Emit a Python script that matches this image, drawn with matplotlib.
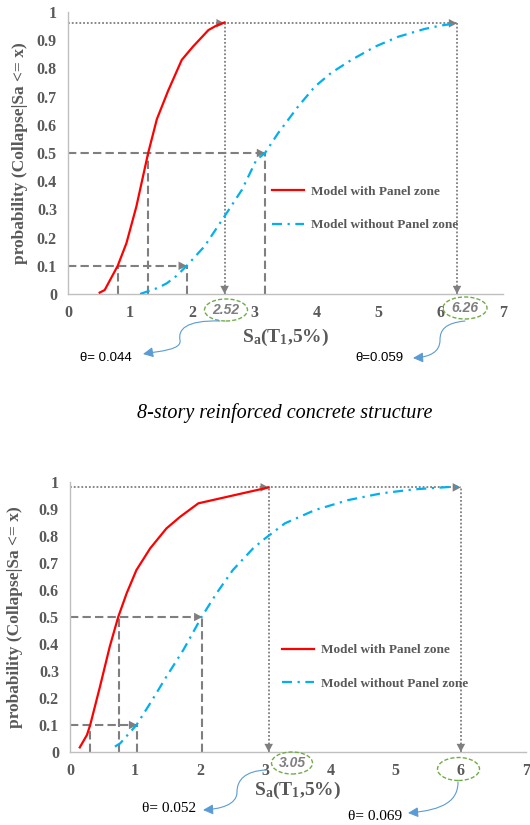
import numpy as np
import matplotlib
matplotlib.use("Agg")
import matplotlib.pyplot as plt
from matplotlib.patches import Ellipse, FancyArrowPatch
from matplotlib.path import Path

plt.rcParams['font.family'] = 'serif'
plt.rcParams['font.serif'] = ['Liberation Serif', 'DejaVu Serif']
plt.rcParams['mathtext.default'] = 'regular'

# curvas de fragilidade - 8 andares
top_with_x = [0.51, 0.59, 0.80, 0.94, 1.10, 1.29, 1.43, 1.61, 1.83, 2.01, 2.26, 2.39, 2.52]
top_with_y = [0.005, 0.014, 0.10, 0.18, 0.31, 0.50, 0.62, 0.72, 0.83, 0.877, 0.936, 0.952, 0.963]
top_without_x = [1.16, 1.29, 1.45, 1.59, 1.75, 1.91, 2.20, 2.55, 2.80, 3.03, 3.17, 3.38,
                 3.70, 3.97, 4.24, 4.56, 4.94, 5.31, 5.74, 6.00, 6.26]
top_without_y = [0.0, 0.01, 0.022, 0.038, 0.065, 0.10, 0.17, 0.286, 0.37, 0.475, 0.50, 0.57,
                 0.664, 0.735, 0.785, 0.83, 0.877, 0.912, 0.94, 0.952, 0.96]

# segunda estrutura
bot_with_x = [0.15, 0.26, 0.31, 0.46, 0.61, 0.74, 0.87, 1.02, 1.23, 1.48, 1.69, 1.97, 2.50, 3.05]
bot_with_y = [0.017, 0.063, 0.10, 0.242, 0.39, 0.50, 0.588, 0.674, 0.754, 0.828, 0.871, 0.921, 0.95, 0.98]
bot_without_x = [0.69, 0.77, 1.02, 1.23, 1.48, 1.74, 2.02, 2.25, 2.50, 2.81, 2.99, 3.30,
                 3.76, 4.27, 4.78, 5.29, 5.85, 6.00]
bot_without_y = [0.02, 0.032, 0.10, 0.18, 0.279, 0.378, 0.50, 0.588, 0.674, 0.754, 0.79, 0.847,
                 0.896, 0.933, 0.958, 0.973, 0.982, 0.985]

# niveis de referencia: (prob, x com painel, x sem painel)
top_levels = [(0.1, 0.80, 1.91), (0.5, 1.29, 3.17)]
top_max = (0.96, 2.52, 6.26)
bot_levels = [(0.1, 0.31, 1.03), (0.5, 0.75, 2.03)]
bot_max = (0.98, 3.05, 6.0)

x_ticks = [0, 1, 2, 3, 4, 5, 6, 7]
y_ticks = [0, 0.1, 0.2, 0.3, 0.4, 0.5, 0.6, 0.7, 0.8, 0.9, 1]
y_labels = ['0', '0.1', '0.2', '0.3', '0.4', '0.5', '0.6', '0.7', '0.8', '0.9', '1']

GREY = '#7f7f7f'
TXT = '#595959'
RED = '#ff0000'
BLUE = '#00b0f0'
W, H = 530, 825

fig = plt.figure(figsize=(W / 100, H / 100), dpi=100)


def px(x, y):
    return (x / W, 1 - y / H)


def head(ax, x, y, dx, dy):
    ax.annotate('', xy=(x, y), xytext=(x - dx, y - dy),
                arrowprops=dict(arrowstyle='-|>,head_length=0.42,head_width=0.22',
                                color=GREY, lw=0, shrinkA=0, shrinkB=0,
                                mutation_scale=14), annotation_clip=False, zorder=3)


def make_axes(rect, lines, levels, top, leg_anchor, ylab_x, xlab_y):
    ax = fig.add_axes(rect)
    ax.set_xlim(0, 7)
    ax.set_ylim(0, 1)
    for s in ['top', 'right']:
        ax.spines[s].set_visible(False)
    for s in ['left', 'bottom']:
        ax.spines[s].set_color('#bfbfbf')
        ax.spines[s].set_linewidth(1.0)
    ax.set_xticks(x_ticks)
    ax.set_yticks(y_ticks)
    ax.set_yticklabels(y_labels)
    ax.tick_params(length=0, pad=8, labelsize=11.5, labelcolor=TXT)
    for lab in ax.get_xticklabels() + ax.get_yticklabels():
        lab.set_fontweight('bold')

    # linhas tracejadas de leitura
    for p, xa, xb in levels:
        ax.plot([0, xb], [p, p], color=GREY, lw=1.5, dashes=(4, 2), zorder=1)
        ax.plot([xa, xa], [0, p], color=GREY, lw=1.5, dashes=(4, 2), zorder=1)
        ax.plot([xb, xb], [0, p], color=GREY, lw=1.5, dashes=(4, 2), zorder=1)
        head(ax, xb, p, 0.05, 0)
    p, xa, xb = top
    ax.plot([0, xb], [p, p], color=GREY, lw=1.3, linestyle=(0, (1, 1.1)), zorder=1)
    for xv in (xa, xb):
        ax.plot([xv, xv], [0, p], color=GREY, lw=1.3, linestyle=(0, (1, 1.1)), zorder=1)
        head(ax, xv, p, 0.05, 0)
        head(ax, xv, 0, 0, -0.01)

    (xw_, yw_), (xo_, yo_) = lines
    ax.plot(xw_, yw_, color=RED, lw=1.6, label='Model with Panel zone', zorder=4)
    ax.plot(xo_, yo_, color=BLUE, lw=1.6, dashes=(4.5, 2.5, 1, 2.5),
            label='Model without Panel zone', zorder=4)

    leg = ax.legend(loc='center left', bbox_to_anchor=leg_anchor, frameon=False,
                    borderpad=0, borderaxespad=0, handlelength=2.4, handletextpad=0.55,
                    labelspacing=1.6, prop=dict(size=9.5, weight='bold'))
    for t in leg.get_texts():
        t.set_color(TXT)

    ax.set_ylabel('probability (Collapse|Sa <= x)', fontsize=12.5, fontweight='bold', color=TXT)
    ax.yaxis.set_label_coords(ylab_x, 0.5)
    ax.set_xlabel(r'S$_{a}$(T$_{1}$,5%)', fontsize=14, fontweight='bold', color=TXT)
    ax.xaxis.set_label_coords(0.5, xlab_y)
    return ax


ax1 = make_axes([68 / W, 1 - 294 / H, 435 / W, 282 / H],
                ((top_with_x, top_with_y), (top_without_x, top_without_y)),
                top_levels, top_max, (0.469, 0.303), -0.092, -0.118)
ax2 = make_axes([70 / W, 1 - 752 / H, 456 / W, 270 / H],
                ((bot_with_x, bot_with_y), (bot_without_x, bot_without_y)),
                bot_levels, bot_max, (0.465, 0.315), -0.103, -0.105)

# elipses com os valores medianos
ellipses = [((226, 310, 43, 22), '2.52'), ((465, 308, 44, 22), '6.26'),
            ((292, 763, 41, 22), '3.05'), ((458.5, 769, 42, 23), None)]
for (cx, cy, ew, eh), txt in ellipses:
    e = Ellipse(px(cx, cy), ew / W, eh / H, transform=fig.transFigure, fill=False,
                edgecolor='#70ad47', lw=1.0, linestyle=(0, (3, 1.5)))
    fig.add_artist(e)
    if txt:
        fig.text(*px(cx, cy), txt, ha='center', va='center', fontsize=10,
                 style='italic', fontweight='bold', color=GREY, family='Liberation Sans')


# setas curvas ate os valores de theta
def curved(pts):
    verts = [px(*p) for p in pts]
    codes = [Path.MOVETO] + [Path.CURVE4] * (len(pts) - 1)
    a = FancyArrowPatch(path=Path(verts, codes), arrowstyle='-|>,head_length=0.5,head_width=0.25',
                        mutation_scale=12, color='#5b9bd5', lw=0.8, transform=fig.transFigure)
    fig.add_artist(a)


curved([(220, 321), (185, 320), (178, 330), (180, 340), (182, 350), (160, 351), (143, 354)])
curved([(465, 321), (445, 323), (440, 330), (440, 340), (440, 352), (430, 357), (413, 358)])
curved([(266, 770), (245, 771), (237, 780), (237, 792), (237, 805), (220, 809), (203, 810)])
curved([(458, 782), (458, 800), (445, 810), (408, 813)])

fig.text(*px(80, 358), 'θ= 0.044', ha='left', va='center', fontsize=9.5, family='Liberation Sans')
fig.text(*px(355, 358), 'θ=0.059', ha='left', va='center', fontsize=9.5, family='Liberation Sans')
fig.text(*px(142, 809), 'θ= 0.052', ha='left', va='center', fontsize=11)
fig.text(*px(348, 816), 'θ= 0.069', ha='left', va='center', fontsize=11)

fig.text(*px(285, 413), '8-story reinforced concrete structure', ha='center', va='center',
         fontsize=14.5, style='italic', color='black')

fig.savefig('out.png', dpi=100)
